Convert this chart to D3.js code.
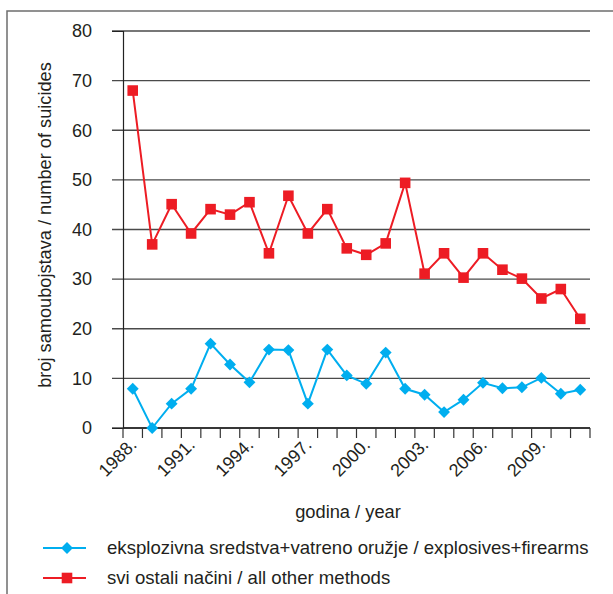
<!DOCTYPE html>
<html><head><meta charset="utf-8">
<script src="https://cdn.jsdelivr.net/npm/d3@7/dist/d3.min.js"></script>
<style>body{margin:0;background:#fff;}svg{display:block;font-family:"Liberation Sans",Arial,sans-serif;}</style>
</head><body>
<script>
const years = d3.range(1988, 2012).map(String);
const labeledYears = ["1988","1991","1994","1997","2000","2003","2006","2009"];
const yTicks = [0,10,20,30,40,50,60,70,80];
const explosives = [7.9,0,4.9,7.9,17.0,12.8,9.2,15.8,15.7,4.9,15.8,10.6,8.9,15.2,7.9,6.7,3.2,5.7,9.1,8.0,8.2,10.1,6.9,7.7];
const otherMethods = [68.0,37.0,45.1,39.2,44.1,43.0,45.5,35.2,46.8,39.2,44.1,36.2,34.9,37.2,49.4,31.1,35.2,30.3,35.2,31.9,30.1,26.1,28.0,22.0];
const seriesNames = ["eksplozivna sredstva+vatreno oružje / explosives+firearms","svi ostali načini / all other methods"];
const yTitle = "broj samoubojstava / number of suicides";
const xTitle = "godina / year";

const W = 613, H = 594;
const svg = d3.select("body").append("svg").attr("width", W).attr("height", H);

// frame
svg.append("rect").attr("x",7).attr("y",11).attr("width",700).attr("height",700)
  .attr("fill","none").attr("stroke","#6d6d6d").attr("stroke-width",1.5);

const x = d3.scaleBand().domain(years).range([123, 590]).padding(0);
const y = d3.scaleLinear().domain([0, 80]).range([428, 31]);

// gridlines
svg.append("g").selectAll("line").data(yTicks).join("line")
  .attr("x1",112).attr("x2",590).attr("y1",d=>y(d)).attr("y2",d=>y(d))
  .attr("stroke","#4a4a4a").attr("stroke-width",1.3);

// y axis
const yAxis = svg.append("g").attr("transform","translate(123,0)")
  .call(d3.axisLeft(y).tickValues(yTicks).tickSize(11).tickPadding(20));
yAxis.select(".domain").attr("stroke","#222").attr("stroke-width",1.2);
yAxis.selectAll(".tick line").attr("stroke","none");
yAxis.selectAll("text").attr("font-size",18).attr("fill","#231f20").attr("font-family","Liberation Sans, Arial, sans-serif");

// x axis line + boundary ticks
svg.append("line").attr("x1",123).attr("x2",590).attr("y1",y(0)).attr("y2",y(0)).attr("stroke","#222").attr("stroke-width",1.3);
const bounds = years.map(d=>x(d)).concat([x(years[years.length-1]) + x.bandwidth()]);
svg.append("g").selectAll("line").data(bounds).join("line")
  .attr("x1",d=>d).attr("x2",d=>d).attr("y1",y(0)).attr("y2",y(0)+10)
  .attr("stroke","#333").attr("stroke-width",1.2);

// x labels
svg.append("g").selectAll("text").data(labeledYears).join("text")
  .attr("transform",d=>`translate(${x(d)+x.bandwidth()/2+5},${y(0)+18}) rotate(-45)`)
  .attr("text-anchor","end").attr("font-size",18).attr("fill","#231f20")
  .text(d=>d+".");

// titles
svg.append("text").attr("transform","translate(51,225) rotate(-90)").attr("text-anchor","middle")
  .attr("font-size",18.2).attr("fill","#231f20").text(yTitle);
svg.append("text").attr("x",348).attr("y",518).attr("text-anchor","middle")
  .attr("font-size",18.3).attr("fill","#231f20").text(xTitle);

const cx = d => x(d) + x.bandwidth()/2;
const blue = "#00aeef", red = "#ed1c24";

function drawSeries(vals, color, shape){
  const line = d3.line().x((v,i)=>cx(years[i])).y(v=>y(v));
  svg.append("path").datum(vals).attr("d",line).attr("fill","none").attr("stroke",color).attr("stroke-width",2);
  svg.append("g").selectAll("path").data(vals).join("path")
    .attr("transform",(v,i)=>`translate(${cx(years[i])},${y(v)})`)
    .attr("d", shape).attr("fill",color);
}
const diamond = d3.symbol().type(d3.symbolDiamond2).size(90)();
const square = "M-5.3,-5.3H5.3V5.3H-5.3Z";
drawSeries(otherMethods, red, square);
drawSeries(explosives, blue, diamond);

// legend
const legend = svg.append("g");
const lg = [{name:seriesNames[0],color:blue,shape:diamond,y:548},{name:seriesNames[1],color:red,shape:square,y:578}];
lg.forEach(l=>{
  legend.append("line").attr("x1",43).attr("x2",86).attr("y1",l.y).attr("y2",l.y).attr("stroke",l.color).attr("stroke-width",2);
  legend.append("path").attr("transform",`translate(67,${l.y})`).attr("d",l.shape).attr("fill",l.color);
  legend.append("text").attr("x",107).attr("y",l.y+6).attr("font-size",18.6).attr("fill","#231f20").text(l.name);
});
</script>
</body></html>
